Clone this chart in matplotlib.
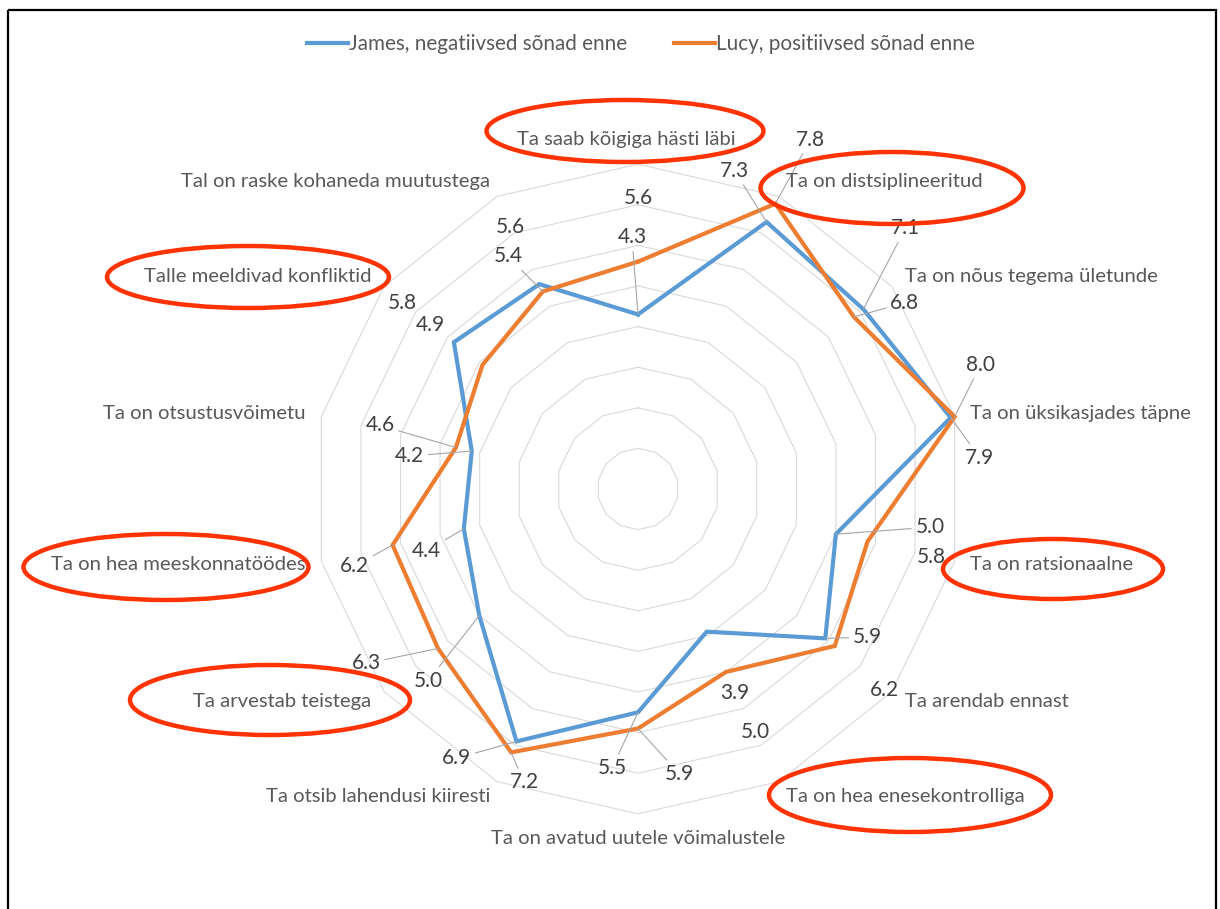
import matplotlib
matplotlib.use('Agg')
import matplotlib.pyplot as plt
from matplotlib.patches import Ellipse, Rectangle
from matplotlib.lines import Line2D
import numpy as np

categories = [
    "Ta saab kõigiga hästi läbi",
    "Ta on distsiplineeritud",
    "Ta on nõus tegema ületunde",
    "Ta on üksikasjades täpne",
    "Ta on ratsionaalne",
    "Ta arendab ennast",
    "Ta on hea enesekontrolliga",
    "Ta on avatud uutele võimalustele",
    "Ta otsib lahendusi kiiresti",
    "Ta arvestab teistega",
    "Ta on hea meeskonnatöödes",
    "Ta on otsustusvõimetu",
    "Talle meeldivad konfliktid",
    "Tal on raske kohaneda muutustega",
]
james = [4.3, 7.3, 7.1, 7.9, 5.0, 5.9, 3.9, 5.5, 6.9, 5.0, 4.4, 4.2, 5.8, 5.6]
lucy = [5.6, 7.8, 6.8, 8.0, 5.8, 6.2, 5.0, 5.9, 7.2, 6.3, 6.2, 4.6, 4.9, 5.4]
series_names = ["James, negatiivsed sõnad enne", "Lucy, positiivsed sõnad enne"]

# categories circled in red in the original
circled = [0, 1, 4, 6, 9, 10, 12]

# label offsets in pixels (dx, dy down) and whether a leader line is drawn
james_lbl = [(-6, -77, 1), (-32, -51, 1), (42, -81, 1), (29, 40, 1), (94, -7, 1),
             (42, -1, 1), (28, 61, 0), (-26, 56, 1), (-60, 17, 1), (-51, 65, 1),
             (-37, 22, 1), (-62, 5, 1), (-52, -39, 0), (-29, -57, 0)]
lucy_lbl = [(0, -64, 0), (35, -64, 1), (51, -14, 1), (26, -52, 1), (64, 16, 0),
            (50, 44, 0), (29, 60, 0), (41, 45, 1), (13, 30, 1), (-72, 15, 1),
            (-38, 21, 1), (-76, -22, 1), (-52, -40, 0), (-35, -35, 1)]

BLUE = '#5B9BD5'
ORANGE = '#ED7D31'
GRID = '#D9D9D9'
TXT = '#595959'
LBL = '#404040'
RED = '#FF3300'
FONT = 'Lato'

W, H = 1220, 909
cx, cy, px_per_unit = 638, 489, 40.6
rmax = 8

fig = plt.figure(figsize=(W / 100, H / 100), dpi=100)
fig.patch.set_facecolor('white')
ax = fig.add_axes([0, 0, 1, 1])
ax.set_xlim(-cx / px_per_unit, (W - cx) / px_per_unit)
ax.set_ylim(-(H - cy) / px_per_unit, cy / px_per_unit)
ax.axis('off')

n = len(categories)
theta = np.arange(n) * 2 * np.pi / n
sx, sy = np.sin(theta), np.cos(theta)

# polygon grid
for r in range(1, rmax + 1):
    ax.plot(np.append(r * sx, r * sx[0]), np.append(r * sy, r * sy[0]),
            color=GRID, lw=0.8, zorder=1)

for vals, col in [(james, BLUE), (lucy, ORANGE)]:
    v = np.array(vals)
    ax.plot(np.append(v * sx, v[0] * sx[0]), np.append(v * sy, v[0] * sy[0]),
            color=col, lw=3.0, zorder=3, solid_joinstyle='miter')

# data labels
for vals, offs in [(james, james_lbl), (lucy, lucy_lbl)]:
    for i, v in enumerate(vals):
        dx, dy, lead = offs[i]
        kw = {}
        if lead:
            kw['arrowprops'] = dict(arrowstyle='-', color='#A6A6A6', lw=0.8,
                                    shrinkA=1, shrinkB=0)
        ax.annotate(f"{v:.1f}", xy=(v * sx[i], v * sy[i]),
                    xytext=(dx * 0.72, -dy * 0.72), textcoords='offset points',
                    ha='center', va='center', fontsize=15, color=LBL,
                    family=FONT, zorder=4, **kw)

# category labels
rl = 8.4
for i, name in enumerate(categories):
    if abs(sx[i]) < 0.1:
        ha = 'center'
        va = 'bottom' if sy[i] > 0 else 'top'
    else:
        ha = 'left' if sx[i] > 0 else 'right'
        va = 'center'
    ax.text(rl * sx[i] - (0.3 if i == 0 else 0), rl * sy[i], name, ha=ha, va=va,
            fontsize=14.6, color=TXT, family=FONT, zorder=4)

# legend
handles = [Line2D([], [], color=BLUE, lw=3.0), Line2D([], [], color=ORANGE, lw=3.0)]
fig.legend(handles, series_names, loc='center', bbox_to_anchor=(641 / W, 1 - 44 / H),
           ncol=2, frameon=False, handlelength=1.95, handletextpad=0.05,
           columnspacing=2.3, prop={'family': FONT, 'size': 14.9}, labelcolor=TXT)

# overlay in pixel units: red ellipses and the outer frame
ov = fig.add_axes([0, 0, 1, 1], facecolor='none')
ov.set_xlim(0, W)
ov.set_ylim(H, 0)
ov.axis('off')
ellipses = {0: (625, 131, 277, 62), 1: (892, 188, 263, 72), 4: (1053, 569, 220, 60),
            6: (910, 795, 282, 74), 9: (270, 700, 280, 70), 10: (166, 567, 285, 66),
            12: (248, 277, 282, 62)}
for k in circled:
    ex, ey, ew, eh = ellipses[k]
    ov.add_patch(Ellipse((ex, ey), ew, eh, fill=False, edgecolor=RED, lw=3.2, zorder=5))
ov.add_patch(Rectangle((8, 10), 1208, 930, fill=False, edgecolor='black', lw=1.6,
                       clip_on=False, zorder=6))

fig.savefig('out.png', dpi=100, facecolor='white')
plt.close(fig)
